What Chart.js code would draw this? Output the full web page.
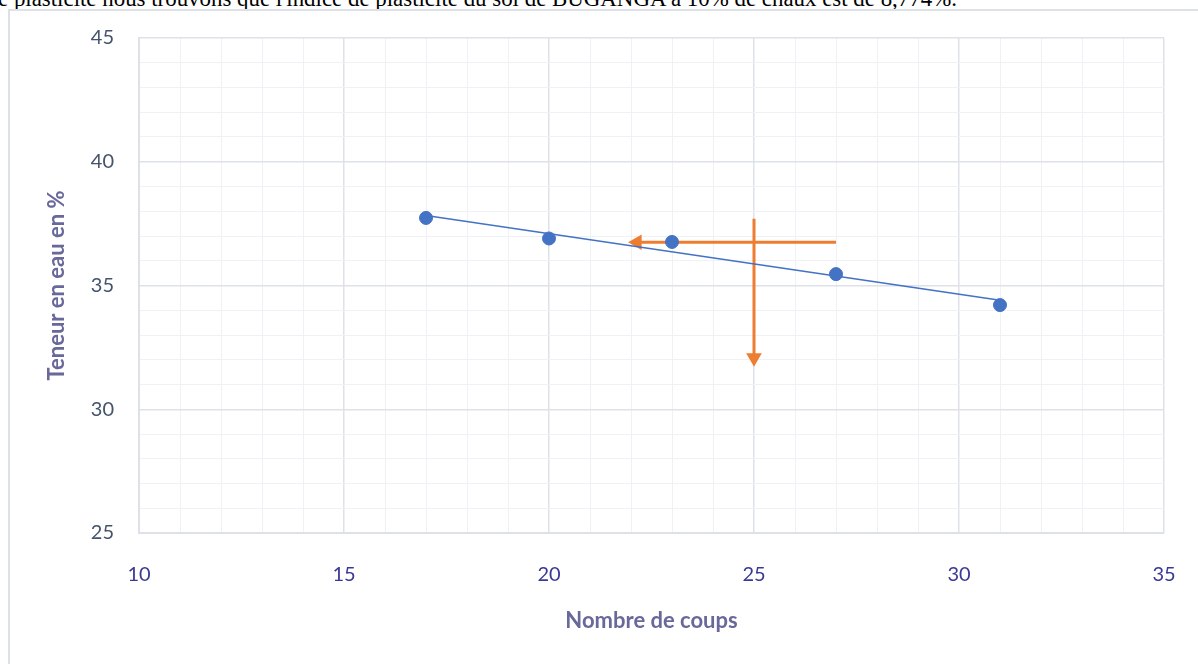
<!DOCTYPE html>
<html>
<head>
<meta charset="utf-8">
<script src="https://cdn.jsdelivr.net/npm/chart.js@4/dist/chart.umd.min.js"></script>
<style>
  body { margin: 0; background: #fff; overflow: hidden; }
  #txt { position: absolute; left: -2px; top: -12px; font: 22.9px/22px "Liberation Serif", serif; color: #000; white-space: nowrap; }
  #frame { position: absolute; left: 8px; top: 9px; width: 1300px; height: 800px; border: 2px solid #dde1e8; }
  #wrap { position: absolute; left: 0; top: 0; width: 1198px; height: 664px; }
</style>
</head>
<body>
<div id="txt">e plasticité nous trouvons que l'indice de plasticité du sol de BUGANGA à 10% de chaux est de 8,774%.</div>
<div id="frame"></div>
<div id="wrap"><canvas id="mychart" width="1198" height="664"></canvas></div>
<script>
// points mesures
var coups = [17, 20, 23, 27, 31]
var teneur = [37.73, 36.9, 36.76, 35.46, 34.21]

// courbe de tendance
var trendX = [17, 31]
var trendY = [37.83, 34.40]

// fleches de lecture
var hArrowX = [27, 22.15]
var hArrowY = [36.75, 36.75]
var vArrowX = [25, 25]
var vArrowY = [37.7, 32.08]

var xMin = 10, xMax = 35, yMin = 25, yMax = 45

function pts(xs, ys) {
    var out = []
    for (var i = 0; i < xs.length; i++) out.push({x: xs[i], y: ys[i]})
    return out
}

var blue = '#4472C4'
var orange = '#ED7D31'

var font = 'Lato'

function gridColor(ctx) {
    return ctx.tick && ctx.tick.value % 5 === 0 ? '#dde1e8' : '#f0f1f5'
}
function gridWidth(ctx) {
    return ctx.tick && ctx.tick.value % 5 === 0 ? 1.5 : 1
}

var ctx = document.getElementById('mychart').getContext('2d')

var chart = new Chart(ctx, {
    type: 'scatter',
    data: {
        datasets: [
            {
                label: 'Teneur',
                data: pts(coups, teneur),
                backgroundColor: blue,
                borderColor: blue,
                pointRadius: 6.5,
                pointHoverRadius: 6.5,
                showLine: false,
                order: 1
            },
            {
                label: 'Tendance',
                data: pts(trendX, trendY),
                borderColor: blue,
                borderWidth: 1.5,
                pointRadius: 0,
                showLine: true,
                order: 2
            },
            {
                label: 'h',
                data: pts(hArrowX, hArrowY),
                borderColor: orange,
                backgroundColor: orange,
                borderWidth: 3,
                showLine: true,
                pointStyle: 'triangle',
                pointRadius: [0, 9],
                pointBorderWidth: 0,
                pointRotation: 270,
                order: 3
            },
            {
                label: 'v',
                data: pts(vArrowX, vArrowY),
                borderColor: orange,
                backgroundColor: orange,
                borderWidth: 3,
                showLine: true,
                pointStyle: 'triangle',
                pointRadius: [0, 9],
                pointBorderWidth: 0,
                pointRotation: 180,
                order: 3
            }
        ]
    },
    options: {
        responsive: false,
        animation: false,
        layout: { padding: { left: 0, right: 34, top: 38, bottom: 0 } },
        plugins: { legend: { display: false }, tooltip: { enabled: false } },
        scales: {
            x: {
                type: 'linear',
                min: xMin, max: xMax,
                border: { display: true, color: '#dde1e8', width: 2 },
                grid: { color: gridColor, lineWidth: gridWidth, drawTicks: false },
                ticks: {
                    stepSize: 1, autoSkip: false, maxRotation: 0, padding: 30,
                    color: '#3a3a96', font: { family: font, size: 20 },
                    callback: function(v) { return v % 5 === 0 ? v : '' }
                },
                title: {
                    display: true, text: 'Nombre de coups', color: '#68689a',
                    font: { family: font, size: 22, weight: 'bold' },
                    padding: { top: 0, bottom: 30 }
                },
                afterFit: function(s) {
                    s.height = 664 - 533
                    s.paddingLeft = 0
                    s.paddingRight = 0
                }
            },
            y: {
                type: 'linear',
                min: yMin, max: yMax,
                border: { display: true, color: '#dde1e8', width: 2 },
                grid: { color: gridColor, lineWidth: gridWidth, drawTicks: false },
                ticks: {
                    stepSize: 1, autoSkip: false, padding: 25,
                    color: '#44546a', font: { family: font, size: 20 },
                    callback: function(v) { return v % 5 === 0 ? v : '' }
                },
                title: {
                    display: true, text: 'Teneur en eau en %', color: '#68689a',
                    font: { family: font, size: 22, weight: 'bold' },
                    padding: { top: 44, bottom: 0 }
                },
                afterFit: function(s) { s.width = 139 }
            }
        }
    }
})
</script>
</body>
</html>
